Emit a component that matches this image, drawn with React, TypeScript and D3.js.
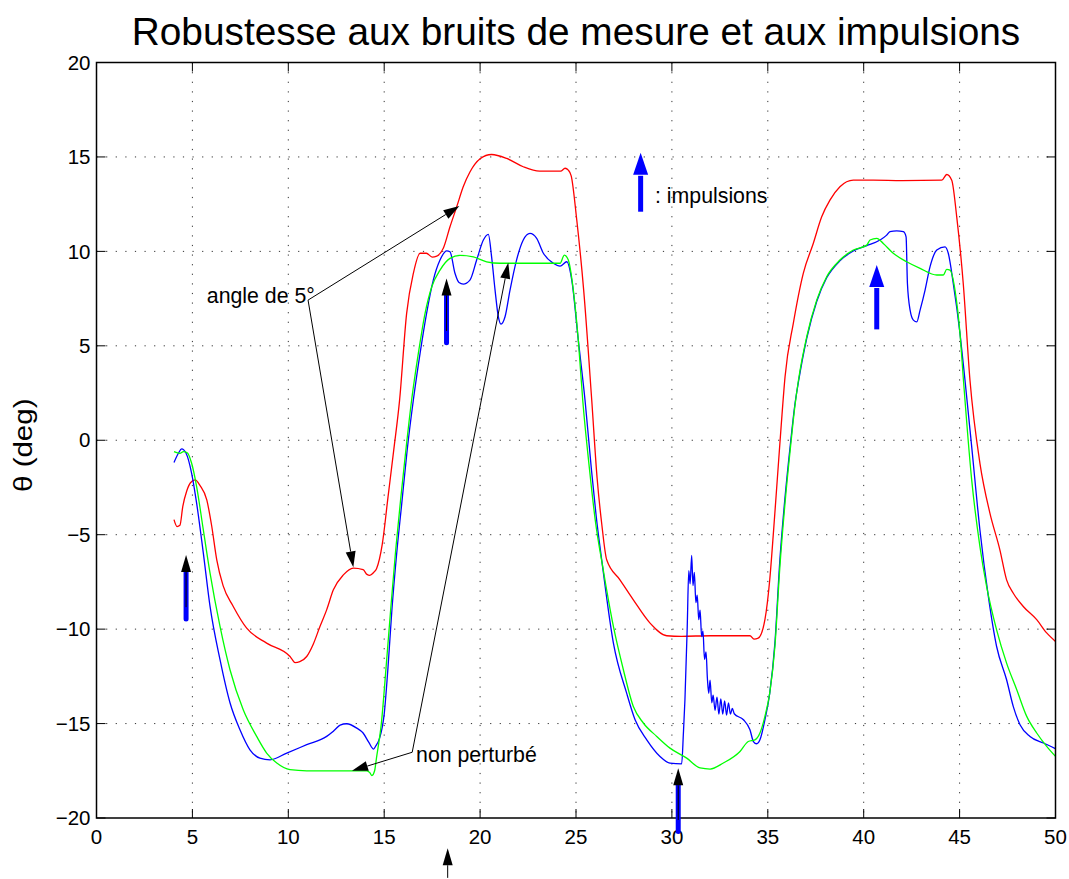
import React from "react";
import * as d3 from "d3";

const W = 1069;
const H = 879;
const LEFT = 96.5;
const RIGHT = 1055.5;
const TOP = 62.5;
const BOTTOM = 818;

const xTicks = [0, 5, 10, 15, 20, 25, 30, 35, 40, 45, 50];
const yTicks = [-20, -15, -10, -5, 0, 5, 10, 15, 20];

const titleText = "Robustesse aux bruits de mesure et aux impulsions";
const yLabelText = "θ (deg)";

// "angle de 5°" series
const redSeries: [number, number][] = [
  [4.04, -4.2], [4.2, -4.57], [4.35, -4.5], [4.5, -3.5], [4.7, -2.7], [4.9, -2.25], [5.14, -2.1],
  [5.4, -2.4], [5.75, -3.16], [6.0, -4.5], [6.27, -6.33], [6.6, -7.7], [7.13, -8.8], [7.83, -9.95],
  [8.87, -10.74], [10.09, -11.45], [10.2, -11.6], [10.35, -11.77], [10.6, -11.72], [10.96, -11.45],
  [11.3, -10.8], [11.65, -9.86], [12.0, -8.98], [12.35, -7.92], [12.87, -7.13], [13.39, -6.77],
  [13.9, -6.85], [14.1, -7.1], [14.25, -7.15], [14.45, -7.0], [14.6, -6.8], [14.9, -5.5], [15.2, -3.0],
  [15.5, -0.5], [15.8, 2.1], [16.17, 6.72], [16.52, 8.84], [16.87, 9.9], [17.2, 9.9], [17.5, 9.7],
  [17.74, 9.75], [18.08, 10.16], [18.43, 11.3], [18.78, 12.36], [19.12, 13.42], [19.47, 14.2],
  [20.0, 14.9], [20.6, 15.13], [21.39, 14.92], [22.25, 14.48], [23.1, 14.25], [24.2, 14.25],
  [24.43, 14.4], [24.6, 14.3], [24.75, 14.0], [25.04, 11.66], [25.4, 7.95], [25.82, 2.13],
  [26.1, -2.0], [26.35, -4.5], [26.6, -6.33], [27.3, -7.4], [27.99, -8.45], [28.86, -9.68],
  [29.73, -10.35], [30.5, -10.38], [32, -10.35], [34.07, -10.35], [34.28, -10.53], [34.5, -10.48],
  [34.85, -9.5], [35.1, -7.4], [35.3, -4.8], [35.5, -2.0], [35.7, 0.8], [35.9, 3.37], [36.33, 6.19],
  [36.85, 8.84], [37.37, 10.42], [37.81, 11.83], [38.24, 12.71], [38.76, 13.42], [39.46, 13.77],
  [40.5, 13.77], [42, 13.75], [44.07, 13.77], [44.33, 14.07], [44.59, 13.77], [44.85, 11.83],
  [45.19, 8.3], [45.54, 3.19], [46.06, -1.22], [46.58, -3.86], [47.1, -5.8], [47.45, -7.39],
  [47.8, -8.1], [48.32, -8.8], [49.02, -9.5], [49.54, -10.2], [50, -10.65],
];

// perturbed (impulses) series
const blueSeries: [number, number][] = [
  [4.04, -1.18], [4.27, -0.69], [4.44, -0.46], [4.67, -0.69], [4.96, -1.75], [5.22, -3.33],
  [5.57, -5.98], [5.92, -8.8], [6.44, -11.62], [6.96, -13.9], [7.48, -15.33], [8.0, -16.39],
  [8.52, -16.83], [9.05, -16.92], [9.92, -16.56], [10.96, -16.12], [12.0, -15.68], [12.3, -15.45],
  [12.43, -15.33], [12.7, -15.08], [13.04, -15.01], [13.57, -15.24], [13.9, -15.5], [14.2, -16.0],
  [14.45, -16.35], [14.55, -16.2], [14.75, -15.8], [15.0, -14.5], [15.2, -12.0], [15.4, -9.0],
  [15.65, -6.0], [15.9, -3.5], [16.2, -0.5], [16.52, 2.13], [16.87, 4.6], [17.21, 6.72],
  [17.56, 8.48], [17.91, 9.54], [18.26, 10.03], [18.43, 9.98], [18.69, 8.84], [18.9, 8.35],
  [19.12, 8.27], [19.47, 8.48], [19.82, 9.54], [20.17, 10.6], [20.43, 10.9], [20.6, 9.71],
  [20.78, 7.95], [20.95, 6.54], [21.09, 6.15], [21.3, 6.54], [21.56, 7.95], [21.9, 9.54],
  [22.25, 10.6], [22.6, 10.95], [22.95, 10.69], [23.3, 9.9], [23.82, 9.37], [24.17, 9.22],
  [24.52, 9.45], [24.78, 8.48], [25.12, 5.3], [25.47, 2.13], [25.8, -1.5], [26.05, -4.0],
  [26.34, -6.33], [26.95, -10.74], [27.64, -13.39], [28.08, -14.8], [28.69, -15.86], [29.38, -16.74],
  [29.9, -17.09], [30.51, -17.13], [30.6, -15.5], [30.68, -13.74], [30.8, -9.86], [30.88, -6.9],
  [30.95, -7.6], [31.03, -6.1], [31.1, -7.7], [31.17, -7.0], [31.25, -8.6], [31.32, -8.2],
  [31.4, -9.5], [31.47, -9.0], [31.55, -10.4], [31.62, -10.1], [31.7, -11.6], [31.78, -11.2],
  [31.85, -12.6], [31.92, -13.4], [31.99, -12.7], [32.08, -13.9], [32.15, -13.5], [32.25, -14.3],
  [32.35, -13.6], [32.45, -14.5], [32.55, -13.7], [32.65, -14.5], [32.75, -13.8], [32.85, -14.55],
  [32.95, -13.9], [33.05, -14.5], [33.15, -14.2], [33.25, -14.48], [33.73, -14.8], [34.07, -15.33],
  [34.25, -15.95], [34.42, -16.07], [34.59, -15.86], [34.85, -14.8], [35.1, -13.4], [35.37, -10.74],
  [35.63, -6.33], [35.9, -3.0], [36.2, 0.0], [36.4, 1.8], [36.6, 3.1], [37.03, 5.4], [37.55, 7.35],
  [38.07, 8.6], [38.76, 9.5], [39.46, 10.02], [40.16, 10.3], [40.85, 10.6], [41.2, 10.86],
  [41.37, 11.04], [41.72, 11.09], [42.07, 11.04], [42.21, 10.77], [42.28, 8.3], [42.42, 6.89],
  [42.59, 6.36], [42.77, 6.27], [42.94, 6.89], [43.2, 7.95], [43.46, 9.19], [43.81, 10.07],
  [44.24, 10.24], [44.41, 9.9], [44.67, 8.3], [45.02, 5.66], [45.28, 3.19], [45.63, -0.34],
  [46.06, -4.75], [46.5, -8.28], [46.93, -10.92], [47.45, -12.68], [47.8, -14.1], [48.15, -15.06],
  [48.67, -15.68], [49.37, -16.03], [50, -16.33],
];

// "non perturbé" series
const greenSeries: [number, number][] = [
  [4.04, -0.6], [4.35, -0.69], [4.53, -0.6], [4.73, -0.66], [4.96, -1.22], [5.22, -2.45],
  [5.57, -4.75], [5.92, -7.04], [6.44, -9.86], [6.96, -12.15], [7.65, -14.27], [8.35, -15.68],
  [8.87, -16.56], [9.4, -17.09], [10.09, -17.44], [10.96, -17.5], [12.5, -17.5], [14.1, -17.5],
  [14.25, -17.6], [14.36, -17.75], [14.5, -17.5], [14.6, -16.8], [14.85, -15.0], [15.1, -12.0],
  [15.35, -8.8], [15.6, -5.8], [15.85, -3.2], [16.1, -0.8], [16.43, 2.13], [16.78, 4.6],
  [17.13, 6.72], [17.48, 8.13], [17.91, 9.01], [18.43, 9.63], [18.95, 9.79], [19.65, 9.71],
  [20.34, 9.45], [21.04, 9.37], [22.5, 9.37], [24.17, 9.37], [24.39, 9.8], [24.6, 9.54],
  [24.86, 7.95], [25.12, 5.3], [25.35, 2.13], [25.7, -1.5], [26.0, -4.2], [26.42, -6.86],
  [26.95, -9.86], [27.47, -12.15], [27.99, -14.1], [28.51, -14.97], [29.21, -15.68], [29.9, -16.3],
  [30.77, -16.83], [31.47, -17.35], [31.99, -17.41], [32.68, -17.09], [33.55, -16.48],
  [33.98, -15.95], [34.33, -15.86], [34.59, -15.5], [34.85, -14.62], [35.1, -13.39],
  [35.37, -10.92], [35.63, -6.69], [35.9, -3.3], [36.2, -0.2], [36.4, 1.7], [36.6, 3.19],
  [37.03, 5.48], [37.55, 7.42], [38.07, 8.66], [38.76, 9.54], [39.46, 10.07], [40.16, 10.33],
  [40.33, 10.6], [40.68, 10.69], [41.02, 10.42], [41.54, 9.9], [42.24, 9.45], [42.94, 9.1],
  [43.81, 8.75], [44.15, 8.75], [44.33, 9.05], [44.5, 9.01], [44.76, 7.95], [45.02, 5.66],
  [45.2, 3.19], [45.63, -2.1], [46.06, -5.63], [46.41, -7.75], [46.93, -10.04], [47.45, -11.8],
  [47.98, -13.21], [48.5, -14.62], [49.02, -15.5], [49.54, -16.21], [50, -16.74],
];

// impulse markers (x, bottom of shaft, tip), head colour
const impulses = [
  { x: 4.67, y0: -9.46, y1: -6.07, head: "black" },
  { x: 18.25, y0: 5.16, y1: 8.57, head: "black" },
  { x: 30.33, y0: -20.72, y1: -17.37, head: "black" },
  { x: 40.68, y0: 5.87, y1: 9.28, head: "blue" },
];
const legendArrow = { x: 28.37, y0: 12.1, y1: 15.22 };
const legendLabel = { x: 29.12, y: 12.55, text: ": impulsions" };

// text annotations with pointer arrows (data coordinates)
const annotations = [
  {
    text: "angle de 5°", tx: 5.75, ty: 7.25,
    from: [11.03, 7.42], tips: [[18.92, 12.4], [13.39, -6.73]],
  },
  {
    text: "non perturbé", tx: 16.66, ty: -17.02,
    from: [16.46, -16.52], tips: [[13.32, -17.5], [21.47, 9.4]],
  },
];
const bottomArrow = { x: 18.31, y0: -23.17, y1: -21.6 };

const FONT = "'Liberation Sans', Arial, Helvetica, sans-serif";

function headPoints(tipX: number, tipY: number, fromX: number, fromY: number, L: number, Wd: number) {
  const dx = tipX - fromX;
  const dy = tipY - fromY;
  const len = Math.hypot(dx, dy) || 1;
  const ux = dx / len;
  const uy = dy / len;
  const bx = tipX - ux * L;
  const by = tipY - uy * L;
  const nx = -uy * (Wd / 2);
  const ny = ux * (Wd / 2);
  return {
    pts: `${tipX},${tipY} ${bx + nx},${by + ny} ${bx - nx},${by - ny}`,
    bx,
    by,
  };
}

export default function App() {
  const x = d3.scaleLinear().domain([0, 50]).range([LEFT, RIGHT]);
  const y = d3.scaleLinear().domain([-20, 20]).range([BOTTOM, TOP]);
  const line = d3
    .line<[number, number]>()
    .x((d) => x(d[0]))
    .y((d) => y(d[1]))
    .curve(d3.curveMonotoneX);

  const gridStyle = { stroke: "#333", strokeWidth: 1, strokeDasharray: "1.2 8.4" };
  const TL = 9;
  const ANN = 21.3;

  return (
    <svg
      width={W}
      height={H}
      style={{ position: "absolute", left: 0, top: 0, background: "#fff" }}
      fontFamily={FONT}
    >
      <rect x={0} y={0} width={W} height={H} fill="#fff" />
      {/* grid */}
      {xTicks.slice(1, -1).map((t) => (
        <line key={"gx" + t} x1={x(t)} x2={x(t)} y1={TOP} y2={BOTTOM} {...gridStyle} />
      ))}
      {yTicks.slice(1, -1).map((t) => (
        <line key={"gy" + t} x1={LEFT} x2={RIGHT} y1={y(t)} y2={y(t)} {...gridStyle} />
      ))}
      {/* ticks */}
      {xTicks.map((t) => (
        <g key={"tx" + t} stroke="#000" strokeWidth={1}>
          <line x1={x(t)} x2={x(t)} y1={BOTTOM} y2={BOTTOM - TL} />
          <line x1={x(t)} x2={x(t)} y1={TOP} y2={TOP + TL} />
        </g>
      ))}
      {yTicks.map((t) => (
        <g key={"ty" + t} stroke="#000" strokeWidth={1}>
          <line x1={LEFT} x2={LEFT + TL} y1={y(t)} y2={y(t)} />
          <line x1={RIGHT} x2={RIGHT - TL} y1={y(t)} y2={y(t)} />
        </g>
      ))}
      {/* tick labels */}
      {xTicks.map((t) => (
        <text key={"lx" + t} x={x(t)} y={BOTTOM + 26} fontSize={20.5} textAnchor="middle" fill="#000">
          {t < 0 ? "\u2212" + Math.abs(t) : String(t)}
        </text>
      ))}
      {yTicks.map((t) => (
        <text key={"ly" + t} x={LEFT - 6} y={y(t) + 7.2} fontSize={20.5} textAnchor="end" fill="#000">
          {t < 0 ? "\u2212" + Math.abs(t) : String(t)}
        </text>
      ))}
      {/* series */}
      <path d={line(redSeries) || ""} fill="none" stroke="#ff0000" strokeWidth={1.3} />
      <path d={line(blueSeries) || ""} fill="none" stroke="#0000ff" strokeWidth={1.3} />
      <path d={line(greenSeries) || ""} fill="none" stroke="#00ff00" strokeWidth={1.3} />
      {/* axes box */}
      <rect x={LEFT} y={TOP} width={RIGHT - LEFT} height={BOTTOM - TOP} fill="none" stroke="#000" strokeWidth={1.5} />

      {/* impulses */}
      {impulses.map((imp, i) => {
        const px = x(imp.x);
        const pb = y(imp.y0);
        const pt = y(imp.y1);
        if (imp.head === "blue") {
          const h = headPoints(px, pt, px, pb, 22, 15);
          return (
            <g key={"imp" + i}>
              <line x1={px} x2={px} y1={pb} y2={h.by + 1} stroke="#0000ff" strokeWidth={5} />
              <polygon points={h.pts} fill="#0000ff" />
            </g>
          );
        }
        const h = headPoints(px, pt, px, pb, 17, 10);
        return (
          <g key={"imp" + i}>
            <line x1={px} x2={px} y1={pb} y2={h.by} stroke="#0000ff" strokeWidth={5} strokeLinecap="round" />
            <line x1={px} x2={px} y1={h.by} y2={h.by + (pb - h.by) * 0.75} stroke="#000" strokeWidth={1} />
            <polygon points={h.pts} fill="#000" />
          </g>
        );
      })}
      {/* legend */}
      {(() => {
        const px = x(legendArrow.x);
        const pb = y(legendArrow.y0);
        const pt = y(legendArrow.y1);
        const h = headPoints(px, pt, px, pb, 22, 15);
        return (
          <g>
            <line x1={px} x2={px} y1={pb} y2={h.by + 1} stroke="#0000ff" strokeWidth={5} />
            <polygon points={h.pts} fill="#0000ff" />
            <text x={x(legendLabel.x)} y={y(legendLabel.y)} fontSize={ANN} fill="#000">
              {legendLabel.text}
            </text>
          </g>
        );
      })()}

      {/* annotations */}
      {annotations.map((a, i) => {
        const fx = x(a.from[0]);
        const fy = y(a.from[1]);
        return (
          <g key={"an" + i}>
            <text x={x(a.tx)} y={y(a.ty)} fontSize={ANN} fill="#000">
              {a.text}
            </text>
            {a.tips.map((t, j) => {
              const tx = x(t[0]);
              const ty = y(t[1]);
              const h = headPoints(tx, ty, fx, fy, 16, 10);
              return (
                <g key={j}>
                  <line x1={fx} y1={fy} x2={h.bx} y2={h.by} stroke="#000" strokeWidth={1} />
                  <polygon points={h.pts} fill="#000" />
                </g>
              );
            })}
          </g>
        );
      })}
      {(() => {
        const px = x(bottomArrow.x);
        const pb = y(bottomArrow.y0);
        const pt = y(bottomArrow.y1);
        const h = headPoints(px, pt, px, pb, 17, 10);
        return (
          <g>
            <line x1={px} x2={px} y1={pb} y2={h.by} stroke="#000" strokeWidth={1} />
            <polygon points={h.pts} fill="#000" />
          </g>
        );
      })()}

      {/* title & y label */}
      <text x={(LEFT + RIGHT) / 2} y={45} fontSize={38.8} textAnchor="middle" fill="#000">
        {titleText}
      </text>
      <text
        transform={`translate(31.5,${(TOP + BOTTOM) / 2 + 5}) rotate(-90) scale(1.18,1)`}
        fontSize={25}
        textAnchor="middle"
        fill="#000"
      >
        {yLabelText}
      </text>
    </svg>
  );
}
